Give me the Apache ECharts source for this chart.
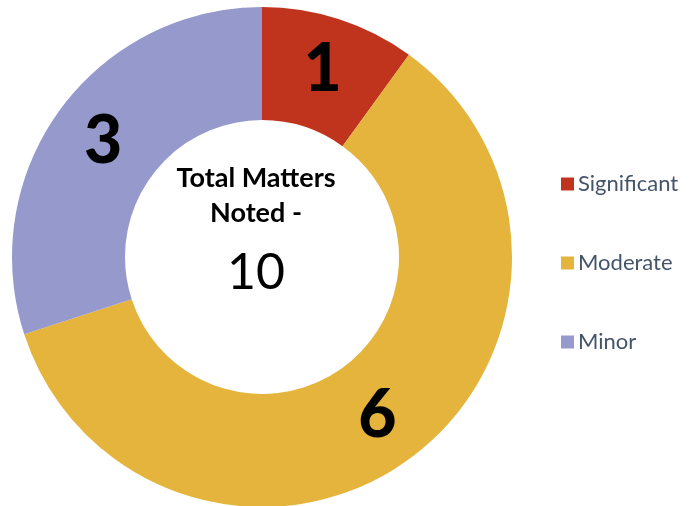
<!DOCTYPE html>
<html>
<head>
<meta charset="utf-8">
<script src="https://cdn.jsdelivr.net/npm/echarts@6/dist/echarts.min.js"></script>
<style>
html,body{margin:0;padding:0;background:#fff;}
#c{width:696px;height:506px;}
</style>
</head>
<body>
<div id="c"></div>
<script>
const categories = ['Significant', 'Moderate', 'Minor'];
const values = [1, 6, 3];
const colors = ['#C0341D', '#E4B43C', '#9599CB'];
const centerLines = ['Total Matters', 'Noted -'];
const totalLabel = '10';

const chart = echarts.init(document.getElementById('c'));
chart.setOption({
  animation: false,
  backgroundColor: '#fff',
  legend: {
    orient: 'vertical',
    left: 556,
    top: 168,
    itemWidth: 13,
    itemHeight: 13,
    itemGap: 57,
    icon: 'rect',
    data: categories,
    textStyle: { fontFamily: 'Lato', fontSize: 22, color: '#44546A', padding: [0, 0, 0, -1] }
  },
  graphic: [
    { type: 'text', x: 256, y: 178, style: { text: centerLines[0], fontFamily: 'Lato', fontWeight: 'bold', fontSize: 27, fill: '#000', align: 'center', verticalAlign: 'middle' } },
    { type: 'text', x: 256, y: 213, style: { text: centerLines[1], fontFamily: 'Lato', fontWeight: 'bold', fontSize: 27, fill: '#000', align: 'center', verticalAlign: 'middle' } },
    { type: 'text', x: 256, y: 273, style: { text: totalLabel, fontFamily: 'Lato', fontSize: 50, fill: '#000', align: 'center', verticalAlign: 'middle' } }
  ],
  series: [{
    type: 'pie',
    center: [262, 257],
    radius: [137, 250],
    startAngle: 90,
    clockwise: true,
    avoidLabelOverlap: false,
    label: {
      show: true,
      position: 'inside',
      formatter: '{c}',
      fontFamily: 'Lato',
      fontWeight: 900,
      fontSize: 66,
      color: '#000'
    },
    labelLine: { show: false },
    emphasis: { disabled: true },
    itemStyle: { borderWidth: 0 },
    data: categories.map((n, i) => ({ name: n, value: values[i], itemStyle: { color: colors[i] } }))
  }]
});
</script>
</body>
</html>
